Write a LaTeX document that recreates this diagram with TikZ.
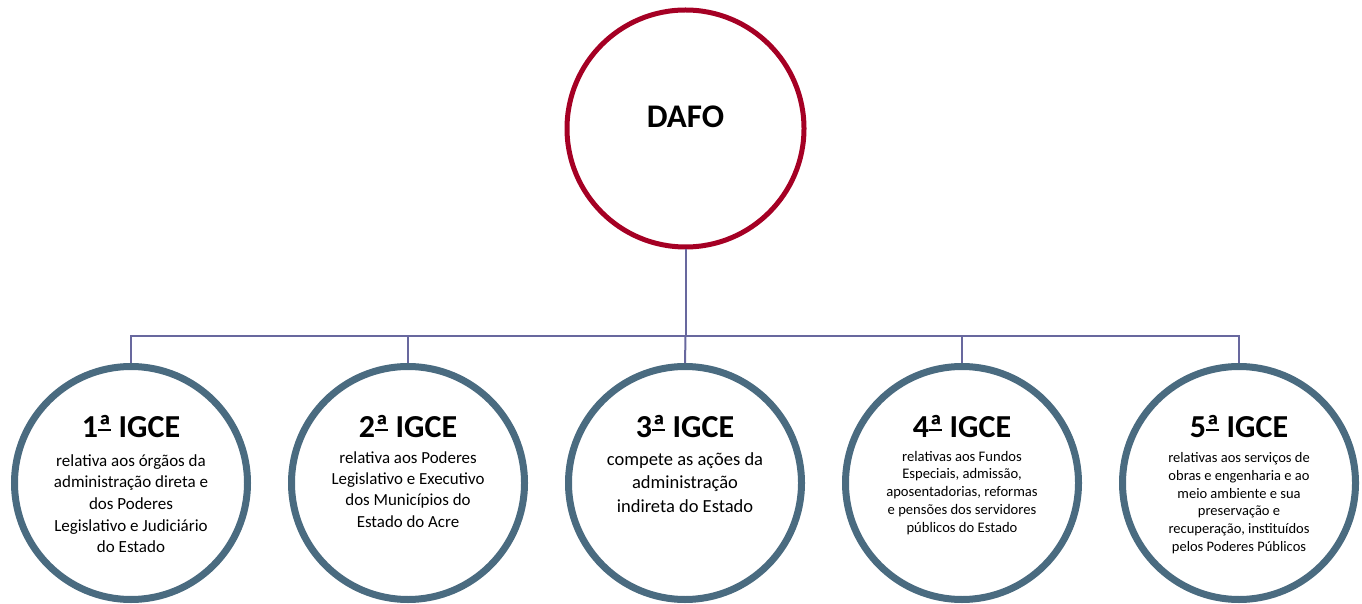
\documentclass[tikz,border=0pt]{standalone}
\usepackage{fontspec}
\setmainfont{Carlito}
\definecolor{dafored}{RGB}{165,0,36}
\definecolor{subblue}{RGB}{74,107,128}
\definecolor{connc}{RGB}{104,104,158}
\newcommand\firstl{\rule{0pt}{0.85em}}
\newcommand\orda{\setbox0=\hbox{ª}\rlap{\copy0}\rule[0.2em]{\wd0}{0.055em}}
\begin{document}
\begin{tikzpicture}[x=1pt,y=1pt]
\useasboundingbox (0,0) rectangle (1362,603);
\clip (0,0) rectangle (1362,603);
\tikzset{
  topc/.style={circle, draw=dafored, line width=5pt, minimum size=237pt, inner sep=0pt, fill=white},
  subc/.style={circle, draw=subblue, line width=7pt, minimum size=233pt, inner sep=0pt, fill=white},
  conn/.style={draw=connc, line width=2pt},
  titletext/.style={font=\bfseries\fontsize{32}{38}\selectfont, anchor=base, inner sep=0pt},
  bodytext/.style={align=center, anchor=north, inner sep=0pt},
}
% circles
\node[topc] (dafo) at (685.5,474.5) {};
\node[subc] (c1) at (131,120) {};
\node[subc] (c2) at (408,120) {};
\node[subc] (c3) at (685,120) {};
\node[subc] (c4) at (962,120) {};
\node[subc] (c5) at (1239,120) {};
% connectors
\coordinate (hub) at (685.5,267);
\draw[conn] (dafo) -- (hub);
\draw[conn] (hub) -| (c1.north);
\draw[conn] (hub) -| (c2.north);
\draw[conn] (hub) -- (c3.north);
\draw[conn] (hub) -| (c4.north);
\draw[conn] (hub) -| (c5.north);
% texts
\node[font=\bfseries\fontsize{33}{40}\selectfont, anchor=base, inner sep=0pt] (dafot) at (685.5,475) {DAFO};
\node[titletext] (t1) at (131,166) {1\orda{} IGCE};
\node[titletext] (t2) at (408,166) {2\orda{} IGCE};
\node[titletext] (t3) at (685,166) {3\orda{} IGCE};
\node[titletext] (t4) at (962,166) {4\orda{} IGCE};
\node[titletext] (t5) at (1239,166) {5\orda{} IGCE};
\node[bodytext, font=\fontsize{17}{21.7}\selectfont] (b1) at (131,151.5)
  {\firstl relativa aos órgãos da\\administração direta e\\dos Poderes\\Legislativo e Judiciário\\do Estado};
\node[bodytext, font=\fontsize{16.9}{21.4}\selectfont] (b2) at (408,154.4)
  {\firstl relativa aos Poderes\\Legislativo e Executivo\\dos Municípios do\\Estado do Acre};
\node[bodytext, font=\fontsize{18.5}{23.5}\selectfont] (b3) at (685,153.7)
  {\firstl compete as ações da\\administração\\indireta do Estado};
\node[bodytext, font=\fontsize{14.6}{17.7}\selectfont] (b4) at (962,154.4)
  {\firstl relativas aos Fundos\\Especiais, admissão,\\aposentadorias, reformas\\e pensões dos servidores\\públicos do Estado};
\node[bodytext, font=\fontsize{14.5}{17.9}\selectfont] (b5) at (1239,153.3)
  {\firstl relativas aos serviços de\\obras e engenharia e ao\\meio ambiente e sua\\preservação e\\recuperação, instituídos\\pelos Poderes Públicos};
\end{tikzpicture}
\end{document}
